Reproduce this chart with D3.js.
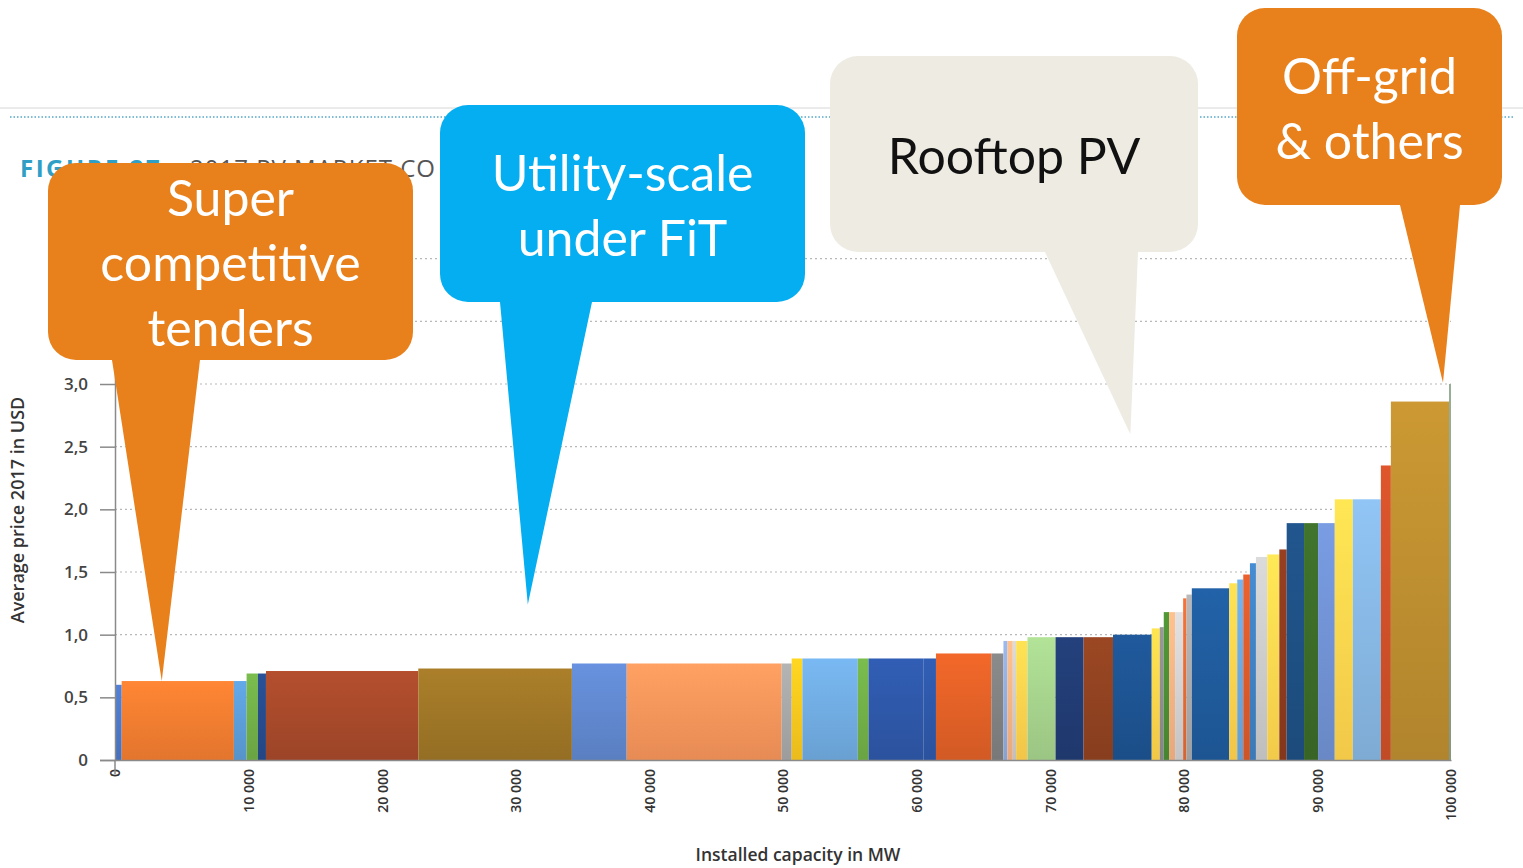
<!DOCTYPE html>
<html>
<head>
<meta charset="utf-8">
<script src="https://cdn.jsdelivr.net/npm/d3@7"></script>
<style>
  body { margin: 0; background: #fff; }
  svg { display: block; }
</style>
</head>
<body>
<svg id="chart" width="1523" height="868"></svg>
<script>
// installed capacity of each market block (MW), in merit order
const capacityMW = [
  500, 8400, 950, 850, 600, 11400, 11500, 4100, 11600, 750,
  800, 4150, 800, 4100, 950, 4150, 900, 300, 400, 250,
  850, 2100, 2100, 2200, 2900, 600, 300, 400, 450, 600,
  250, 400, 2800, 600, 450, 500, 450, 850, 900, 550,
  1300, 1050, 1250, 1350, 2100, 750, 4350, 150,
];
// average price 2017 (USD)
const avgPrice = [
  0.60, 0.63, 0.63, 0.69, 0.69, 0.71, 0.73, 0.77, 0.77, 0.77,
  0.81, 0.81, 0.81, 0.81, 0.81, 0.85, 0.85, 0.95, 0.95, 0.95,
  0.95, 0.98, 0.98, 0.98, 1.00, 1.05, 1.06, 1.18, 1.18, 1.18,
  1.29, 1.32, 1.37, 1.41, 1.44, 1.48, 1.57, 1.62, 1.64, 1.68,
  1.89, 1.89, 1.89, 2.08, 2.08, 2.35, 2.86, 3.00,
];
const barColors = [
  '#4a76c6', '#f07b30', '#5b9bd5', '#70ad47', '#264a8a', '#a5482a', '#9c7426', '#5f86cc', '#f4935a', '#a5a5a5',
  '#f7c51e', '#6fa9de', '#70ad47', '#2d56a6', '#2d56a6', '#de5f26', '#7f7f7f', '#8eaadb', '#f4b183', '#c9c9c9',
  '#ffd04d', '#a3d08a', '#213b72', '#8e4120', '#1d5290', '#ffd24a', '#8c8c8c', '#4a8c33', '#f4b183', '#d0cece',
  '#e06a35', '#a9a9a9', '#1f5a9a', '#ffd04d', '#6aa6dc', '#d85a2a', '#3f80c0', '#c8c8c8', '#ffd54f', '#8b3a1e',
  '#1e4f82', '#3b6a28', '#6f8fd0', '#ffd34d', '#85b4e0', '#cc4f28', '#bb8c2f', '#8aa08a',
];
const xTicks = [0, 10000, 20000, 30000, 40000, 50000, 60000, 70000, 80000, 90000, 100000];
const yTicks = [0, 0.5, 1, 1.5, 2, 2.5, 3, 3.5, 4];

const callouts = [
  { lines: ['Super', 'competitive', 'tenders'], fill: '#e8801c', text: '#fff' },
  { lines: ['Utility-scale', 'under FiT'], fill: '#05aef0', text: '#fff' },
  { lines: ['Rooftop PV'], fill: '#eeebe2', text: '#111' },
  { lines: ['Off-grid', '& others'], fill: '#e8801c', text: '#fff' },
];

const SVG = d3.select('#chart');
const DEFS = SVG.append('defs');

// header remains of the original figure, cut off by the bubbles
DEFS.append('clipPath').attr('id', 'headClip')
  .append('rect').attr('x', 0).attr('y', 130).attr('width', 440).attr('height', 60);

SVG.append('line')
  .attr('x1', 0).attr('x2', 1523).attr('y1', 108).attr('y2', 108)
  .attr('stroke', '#d6d6d6').attr('stroke-width', 1);
SVG.append('line')
  .attr('x1', 10).attr('x2', 1515).attr('y1', 117).attr('y2', 117)
  .attr('stroke', '#7fbcd6').attr('stroke-width', 2).attr('stroke-dasharray', '1.5,2');
const HEAD = SVG.append('text')
  .attr('x', 20).attr('y', 177)
  .attr('clip-path', 'url(#headClip)')
  .style('font-family', '"Open Sans", sans-serif')
  .style('font-size', '24px');
HEAD.append('tspan').text('FIGURE 27')
  .style('fill', '#2f9fc6').style('font-weight', '700').style('letter-spacing', '2.5px');
HEAD.append('tspan').attr('x', 190).text('2017 PV MARKET CO')
  .style('fill', '#555').style('letter-spacing', '1px');

const X = d3.scaleLinear().domain([0, 100000]).range([115, 1451]);
const Y = d3.scaleLinear().domain([0, 4]).range([760, 760 - 4 * 125.33]);

// dotted grid
SVG.append('g')
  .selectAll('line')
  .data(yTicks.filter((d) => d > 0))
  .join('line')
  .attr('x1', X(0)).attr('x2', X(100000))
  .attr('y1', (d) => Y(d)).attr('y2', (d) => Y(d))
  .attr('stroke', '#b8b8b8').attr('stroke-width', 1.2).attr('stroke-dasharray', '2,3');

// bars
const CUMSUM = d3.cumsum(capacityMW);
const bars = capacityMW.map((w, i) => ({
  x0: i === 0 ? 0 : CUMSUM[i - 1],
  x1: CUMSUM[i],
  price: avgPrice[i],
  color: barColors[i],
  id: i,
}));

bars.forEach((d) => {
  const g = DEFS.append('linearGradient')
    .attr('id', `bar${d.id}`)
    .attr('x1', 0).attr('x2', 0).attr('y1', 0).attr('y2', 1);
  g.append('stop').attr('offset', '0%').attr('stop-color', d3.color(d.color).brighter(0.25));
  g.append('stop').attr('offset', '100%').attr('stop-color', d3.color(d.color).darker(0.15));
});

SVG.append('g')
  .selectAll('rect')
  .data(bars)
  .join('rect')
  .attr('x', (d) => X(d.x0))
  .attr('width', (d) => X(d.x1) - X(d.x0))
  .attr('y', (d) => Y(d.price))
  .attr('height', (d) => Y(0) - Y(d.price))
  .attr('fill', (d) => `url(#bar${d.id})`);

// axes
const yAxis = SVG.append('g')
  .attr('transform', `translate(${X(0)},0)`)
  .call(d3.axisLeft(Y).tickValues(yTicks).tickSize(15).tickPadding(12)
    .tickFormat((d) => (d === 0 ? '0' : d3.format('.1f')(d).replace('.', ','))));
yAxis.select('.domain').attr('stroke', '#8a8a8a').attr('stroke-width', 1.5);
yAxis.selectAll('.tick line').attr('stroke', '#8a8a8a').attr('stroke-width', 1.5);
yAxis.selectAll('.tick text')
  .style('font-family', '"Open Sans", sans-serif')
  .style('font-size', '17px').style('font-weight', '600').style('fill', '#444');

const xAxis = SVG.append('g')
  .attr('transform', `translate(0,${Y(0)})`)
  .call(d3.axisBottom(X).tickValues(xTicks).tickSize(0).tickSizeOuter(0)
    .tickFormat((d) => d3.format(',')(d).replace(',', ' ')));
xAxis.select('.domain').attr('stroke', '#8a8a8a').attr('stroke-width', 1.5);
xAxis.selectAll('.tick text')
  .attr('transform', 'rotate(-90)')
  .attr('x', -9).attr('y', 0).attr('dy', '0.35em')
  .style('text-anchor', 'end')
  .style('font-family', '"Open Sans", sans-serif')
  .style('font-size', '14px').style('font-weight', '600').style('fill', '#333');
xAxis.append('line')
  .attr('x1', X(0)).attr('x2', X(0)).attr('y1', 0).attr('y2', 14)
  .attr('stroke', '#8a8a8a').attr('stroke-width', 1.5);

SVG.append('text')
  .attr('x', 798).attr('y', 861)
  .attr('text-anchor', 'middle')
  .style('font-family', '"Open Sans", sans-serif')
  .style('font-size', '17.5px').style('font-weight', '600').style('fill', '#333')
  .text('Installed capacity in MW');

SVG.append('text')
  .attr('transform', 'translate(24,510) rotate(-90)')
  .attr('text-anchor', 'middle')
  .style('font-family', '"Open Sans", sans-serif')
  .style('font-size', '18px').style('font-weight', '600').style('fill', '#333')
  .text('Average price 2017 in USD');

// speech bubbles pointing at segments of the curve
const bubbleBox = [
  { x: 48, y: 163, w: 365, h: 197, tail: [[112, 360], [200, 360]], tip: [3500, 0.63], cy: 216 },
  { x: 440, y: 105, w: 365, h: 197, tail: [[500, 302], [592, 302]], tip: [30900, 1.24], cy: 191 },
  { x: 830, y: 56, w: 368, h: 196, tail: [[1045, 252], [1138, 252]], tip: [76000, 2.6], cy: 174 },
  { x: 1237, y: 8, w: 265, h: 197, tail: [[1400, 205], [1460, 205]], tip: [99400, 3.01], cy: 94 },
];

callouts.forEach((c, i) => {
  const b = bubbleBox[i];
  const G = SVG.append('g');
  const tip = [X(b.tip[0]), Y(b.tip[1])];
  G.append('path')
    .attr('d', d3.line()([b.tail[0], tip, b.tail[1]]) + 'Z')
    .attr('fill', c.fill);
  G.append('rect')
    .attr('x', b.x).attr('y', b.y).attr('width', b.w).attr('height', b.h)
    .attr('rx', 28).attr('fill', c.fill);
  G.selectAll('text')
    .data(c.lines)
    .join('text')
    .attr('x', b.x + b.w / 2)
    .attr('y', (d, j) => b.cy + j * 65)
    .attr('text-anchor', 'middle')
    .style('font-family', 'Lato, "Open Sans", sans-serif')
    .style('font-size', '50px')
    .style('fill', c.text)
    .text((d) => d);
});
</script>
</body>
</html>
